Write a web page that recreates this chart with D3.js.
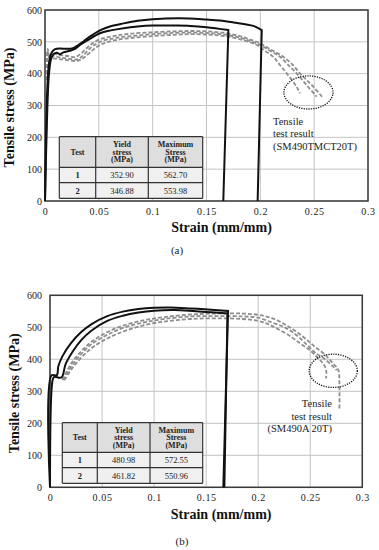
<!DOCTYPE html>
<html>
<head>
<meta charset="utf-8">
<script src="https://d3js.org/d3.v7.min.js"></script>
<style>
  body { margin: 0; padding: 0; background: #fff; }
  svg { display: block; }
  svg text { font-family: "Liberation Serif", "Times New Roman", "DejaVu Serif", serif; }
  .grid line { stroke: #c4c4c4; stroke-width: 1; }
  .tick text { fill: #222; font-size: 10px; }
</style>
</head>
<body>
<script>
// ---- data ----
var strainTicks = [0, 0.05, 0.1, 0.15, 0.2, 0.25, 0.3];
var stressTicks = [0, 100, 200, 300, 400, 500, 600];

// panel (a) SM490TMCT20T : [strain, stress]
var a_test1 = [[0,0],[0.0012,250],[0.0025,380],[0.004,440],[0.006,465],[0.009,476],[0.014,479],[0.02,478],[0.026,480],[0.031,490],[0.036,502],[0.042,517],[0.051,536],[0.061,549],[0.073,558],[0.086,566],[0.1,571],[0.125,574],[0.15,570],[0.1625,567],[0.175,561],[0.1935,550],[0.2013,537],[0.1975,0]];
var a_test2 = [[0,0],[0.0018,250],[0.0035,390],[0.0055,445],[0.008,462],[0.011,466],[0.014,461],[0.017,467],[0.023,472],[0.028,478],[0.0325,490],[0.04,506],[0.051,527],[0.061,536],[0.073,543],[0.086,548],[0.1,551],[0.12,551],[0.135,550],[0.15,546],[0.1703,537],[0.1656,0]];
var a_dash1 = [[0.0022,380],[0.0025,478],[0.004,458],[0.008,462],[0.015,458],[0.022,455],[0.028,452],[0.033,462],[0.042,490],[0.051,508],[0.065,519],[0.08,526],[0.1,530],[0.12,533],[0.135,534],[0.15,533],[0.165,529],[0.18,519],[0.19,508],[0.2,495],[0.21,475],[0.2213,453],[0.23,428],[0.2368,401],[0.243,380],[0.2492,359],[0.2585,323]];
var a_dash2 = [[0.0022,380],[0.0025,470],[0.004,452],[0.008,455],[0.015,450],[0.022,447],[0.03,445],[0.035,456],[0.042,480],[0.051,500],[0.065,512],[0.08,518],[0.1,524],[0.12,528],[0.135,529],[0.15,528],[0.165,524],[0.18,514],[0.19,503],[0.2,490],[0.21,470],[0.2183,453],[0.226,427],[0.2337,401],[0.243,364],[0.2523,328]];
var a_dash3 = [[0.0022,380],[0.0025,465],[0.004,450],[0.008,448],[0.015,445],[0.022,442],[0.03,440],[0.036,450],[0.043,470],[0.051,490],[0.065,505],[0.08,512],[0.1,518],[0.12,522],[0.135,524],[0.15,523],[0.165,519],[0.18,509],[0.1966,490],[0.205,470],[0.212,453],[0.218,428],[0.2245,401],[0.2337,359],[0.2368,338]];

// panel (b) SM490A 20T
var b_test1 = [[0,0],[0.0015,350],[0.0065,350],[0.008,378],[0.012,410],[0.02,450],[0.03,485],[0.04,510],[0.055,535],[0.07,549],[0.085,557],[0.1,561],[0.115,562],[0.135,559],[0.155,555],[0.171,551],[0.1665,0]];
var b_test2 = [[0,0],[0.0025,335],[0.004,345],[0.011,343],[0.015,385],[0.022,425],[0.03,460],[0.04,490],[0.055,520],[0.07,536],[0.085,546],[0.1,552],[0.12,554],[0.14,550],[0.155,547],[0.1705,543],[0.1675,0]];
var b_dash1 = [[0.012,335],[0.02,385],[0.03,425],[0.04,455],[0.055,485],[0.07,505],[0.09,522],[0.11,532],[0.135,540],[0.16,543],[0.185,543],[0.2,539],[0.212,530],[0.224,512],[0.235,490],[0.247,460],[0.255,438],[0.263,418],[0.272,387],[0.277,366],[0.278,330],[0.278,240]];
var b_dash2 = [[0.013,335],[0.021,380],[0.031,420],[0.041,450],[0.056,478],[0.07,498],[0.09,515],[0.11,526],[0.135,534],[0.16,535],[0.185,534],[0.2,530],[0.213,515],[0.224,502],[0.235,480],[0.247,445],[0.255,420],[0.263,403],[0.272,377],[0.2754,366]];
var b_dash3 = [[0.014,335],[0.022,375],[0.032,412],[0.043,442],[0.058,470],[0.075,492],[0.095,510],[0.115,520],[0.135,526],[0.16,528],[0.185,526],[0.2,520],[0.208,512],[0.2145,502],[0.228,478],[0.2402,450],[0.249,430],[0.2562,408],[0.2615,390],[0.2642,377],[0.2655,360],[0.2651,340]];

var tableHead = [["Test"], ["Yield", "stress", "(MPa)"], ["Maximum", "Stress", "(MPa)"]];
var a_table = [["1", "352.90", "562.70"], ["2", "346.88", "553.98"]];
var b_table = [["1", "480.98", "572.55"], ["2", "461.82", "550.96"]];

var a_note = ["Tensile", "test result", "(SM490TMCT20T)"];
var b_note = ["Tensile", "test result", "(SM490A 20T)"];
// ellipse: [strain, stress, radius strain, radius stress]
var a_ring = [0.2447, 341, 0.0228, 52];
var b_ring = [0.2721, 364, 0.0231, 52];

var W = 379, H = 550;
var svg = d3.select("body").append("svg").attr("width", W).attr("height", H);

var panels = [
  { x0: 45, x1: 368, y0: 201, y1: 10, black: [a_test1, a_test2], dash: [a_dash1, a_dash2, a_dash3],
    table: a_table, tbl: { cols: [59.3, 95.7, 148.3, 202.7], rows: [136.7, 167.3, 182.7, 198.3] },
    note: a_note, noteAt: [0.2118, 240], noteAnchor: "start", ring: a_ring,
    caption: "(a)", capX: 177, capY: 254, yTitleX: 14, xTitleY: 232 },
  { x0: 50, x1: 362.3, y0: 487.3, y1: 295.3, black: [b_test1, b_test2], dash: [b_dash1, b_dash2, b_dash3],
    table: b_table, tbl: { cols: [62.3, 97.3, 150, 202.7], rows: [422.7, 452.3, 467.7, 483.3] },
    note: b_note, noteAt: [0.2709, 251], noteAnchor: "end", ring: b_ring,
    caption: "(b)", capX: 182, capY: 545, yTitleX: 19, xTitleY: 519 }
];

panels.forEach(function(p) {
  var x = d3.scaleLinear().domain([0, 0.3]).range([p.x0, p.x1]);
  var y = d3.scaleLinear().domain([0, 600]).range([p.y0, p.y1]);
  var g = svg.append("g");

  // grid
  var grid = g.append("g").attr("class", "grid");
  grid.selectAll(".v").data(strainTicks).enter().append("line")
    .attr("x1", function(d) { return x(d); }).attr("x2", function(d) { return x(d); })
    .attr("y1", y(0)).attr("y2", y(600));
  grid.selectAll(".h").data(stressTicks).enter().append("line")
    .attr("x1", x(0)).attr("x2", x(0.3))
    .attr("y1", function(d) { return y(d); }).attr("y2", function(d) { return y(d); });

  // axes (labels only)
  var xa = g.append("g").attr("transform", "translate(0," + (y(0) + 4) + ")")
    .call(d3.axisBottom(x).tickValues(strainTicks).tickSize(0).tickFormat(function(d) { return d; }));
  xa.attr("font-family", null).attr("font-size", null);
  xa.select(".domain").remove();
  xa.selectAll("text").attr("dy", "0.71em").style("letter-spacing", "0.6px");
  var ya = g.append("g").attr("transform", "translate(" + (x(0) - (p.x0 - 42)) + ",0)")
    .call(d3.axisLeft(y).tickValues(stressTicks).tickSize(0));
  ya.attr("font-family", null).attr("font-size", null);
  ya.select(".domain").remove();
  ya.selectAll("text").attr("x", 0);

  // frame
  g.append("rect").attr("x", x(0)).attr("y", y(600))
    .attr("width", x(0.3) - x(0)).attr("height", y(0) - y(600))
    .attr("fill", "none").attr("stroke", "#3a3a3a").attr("stroke-width", 1.5);

  var line = d3.line()
    .x(function(d) { return x(d[0]); })
    .y(function(d) { return y(d[1]); })
    .curve(d3.curveCatmullRom.alpha(0.5));

  g.selectAll(".dash").data(p.dash).enter().append("path")
    .attr("d", line).attr("fill", "none")
    .attr("stroke", "#8e8e8e").attr("stroke-width", 1.8)
    .attr("stroke-dasharray", "4,2");

  // smooth curve, then a straight unloading drop to the last point
  g.selectAll(".black").data(p.black).enter().append("path")
    .attr("d", function(d) {
      var last = d[d.length - 1];
      return line(d.slice(0, -1)) + "L" + x(last[0]) + "," + y(last[1]);
    })
    .attr("fill", "none")
    .attr("stroke", "#111").attr("stroke-width", 2);

  // dotted ellipse
  var r = p.ring;
  g.append("ellipse")
    .attr("cx", x(r[0])).attr("cy", y(r[1]))
    .attr("rx", x(r[2]) - x(0)).attr("ry", y(0) - y(r[3]))
    .attr("fill", "none").attr("stroke", "#111")
    .attr("stroke-width", 1.3).attr("stroke-dasharray", "1.2,1.2");

  // note
  g.append("text")
    .attr("x", x(p.noteAt[0])).attr("y", y(p.noteAt[1]))
    .attr("text-anchor", p.noteAnchor)
    .attr("font-size", 10.5).attr("fill", "#222")
    .selectAll("tspan").data(p.note).enter().append("tspan")
    .attr("x", x(p.noteAt[0])).attr("dy", function(d, i) { return i ? 12.7 : 0; })
    .text(function(d) { return d; });

  // table
  var t = p.tbl;
  var tg = g.append("g");
  tg.append("rect").attr("x", t.cols[0]).attr("y", t.rows[0])
    .attr("width", t.cols[3] - t.cols[0]).attr("height", t.rows[1] - t.rows[0]).attr("fill", "#dedede");
  tg.append("rect").attr("x", t.cols[0]).attr("y", t.rows[1])
    .attr("width", t.cols[3] - t.cols[0]).attr("height", t.rows[3] - t.rows[1]).attr("fill", "#f0f0f0");
  t.cols.forEach(function(c) {
    tg.append("line").attr("x1", c).attr("x2", c).attr("y1", t.rows[0]).attr("y2", t.rows[3])
      .attr("stroke", "#333").attr("stroke-width", 1.2);
  });
  t.rows.forEach(function(rr) {
    tg.append("line").attr("x1", t.cols[0]).attr("x2", t.cols[3]).attr("y1", rr).attr("y2", rr)
      .attr("stroke", "#333").attr("stroke-width", 1.2);
  });
  tableHead.forEach(function(lines, ci) {
    var cx = (t.cols[ci] + t.cols[ci + 1]) / 2;
    var cy = (t.rows[0] + t.rows[1]) / 2;
    var n = lines.length;
    tg.append("text").attr("text-anchor", "middle").attr("font-size", 8).attr("font-weight", "bold").attr("fill", "#222")
      .selectAll("tspan").data(lines).enter().append("tspan")
      .attr("x", cx).attr("y", function(d, i) { return cy + (i - (n - 1) / 2) * 7.6 + 2.8; })
      .text(function(d) { return d; });
  });
  p.table.forEach(function(row, ri) {
    var cy = (t.rows[ri + 1] + t.rows[ri + 2]) / 2 + 3;
    row.forEach(function(v, ci) {
      tg.append("text").attr("x", (t.cols[ci] + t.cols[ci + 1]) / 2).attr("y", cy)
        .attr("text-anchor", "middle").attr("font-size", 8.5).attr("fill", "#222")
        .attr("font-weight", ci === 0 ? "bold" : "normal").text(v);
    });
  });

  // titles
  g.append("text").attr("transform", "translate(" + p.yTitleX + "," + ((p.y0 + p.y1) / 2 + 2) + ") rotate(-90)")
    .attr("text-anchor", "middle").attr("font-size", 14).attr("font-weight", "bold").attr("fill", "#111")
    .text("Tensile stress (MPa)");
  g.append("text").attr("x", (p.x0 + p.x1) / 2 + 15).attr("y", p.xTitleY)
    .attr("text-anchor", "middle").attr("font-size", 14).attr("font-weight", "bold").attr("fill", "#111")
    .text("Strain (mm/mm)");
  g.append("text").attr("x", p.capX).attr("y", p.capY)
    .attr("text-anchor", "middle").attr("font-size", 11).attr("fill", "#222")
    .text(p.caption);
});
</script>
</body>
</html>
